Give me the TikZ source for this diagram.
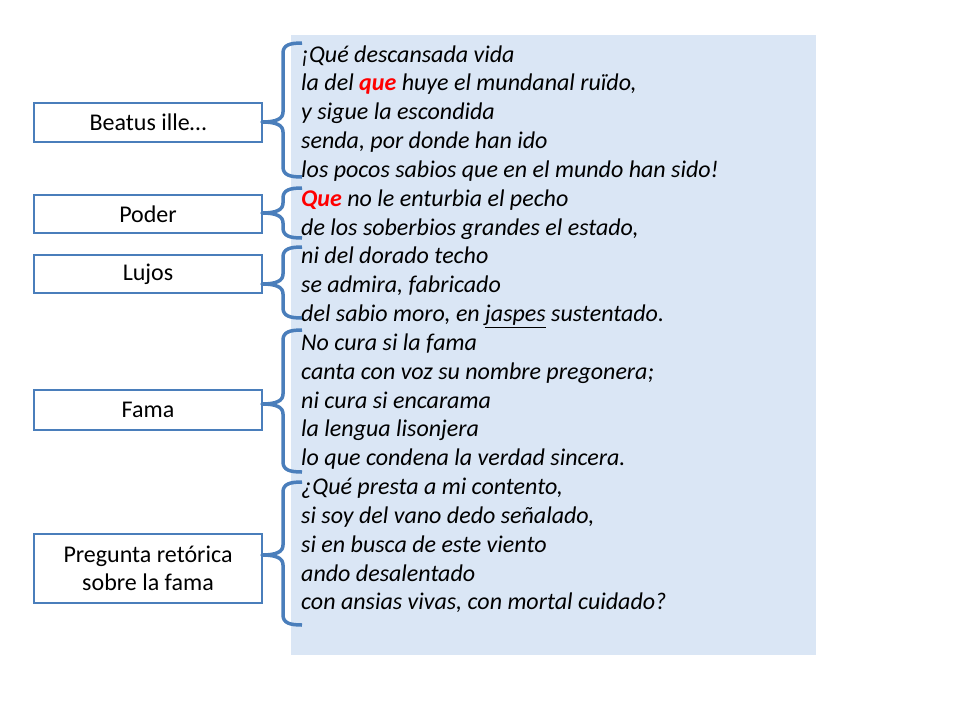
\documentclass[tikz,border=0pt]{standalone}
\usepackage{fontspec}
\setmainfont{Carlito}
\definecolor{boxblue}{RGB}{74,126,187}
\definecolor{panel}{RGB}{218,230,245}
\definecolor{qred}{RGB}{255,0,0}
\newcommand\mybrace[4]{%
  \draw[bracestyle] (302,#1) .. controls (290,#1) and (283,#1+2) .. (283,#1+10)
    -- (283,#3-10) .. controls (283,#3-3) and (276,#3) .. (#4)
    .. controls (276,#3) and (283,#3+3) .. (283,#3+10)
    -- (283,#2-10) .. controls (283,#2-2) and (290,#2) .. (302,#2);}
\begin{document}
\begin{tikzpicture}[x=1pt,y=-1pt,
  lbl/.style={draw=boxblue,line width=2.5pt,fill=white,align=center,
    inner sep=0pt,minimum width=228pt,font=\fontsize{24}{28}\selectfont},
  verse/.style={anchor=base west,inner sep=0pt,
    font=\fontsize{24}{28.84}\selectfont\itshape},
  bracestyle/.style={draw=boxblue,line width=3.5pt,line join=round}]
\useasboundingbox (0,0) rectangle (960,720);
\fill[panel] (291,35) rectangle (816,655);
% label boxes
\node[lbl,minimum height=39pt] (b1) at (148,122.5) {Beatus ille…};
\node[lbl,minimum height=38pt] (b2) at (148,214) {Poder};
\node[lbl,minimum height=38pt] (b3) at (148,274) {Lujos};
\node[lbl,minimum height=40pt] (b4) at (148,410) {Fama};
\node[lbl,minimum height=69pt] (b5) at (148,568.5) {Pregunta retórica\\sobre la fama};
% verses
\def\bl{62}\def\ls{28.84}
\node[verse] (v1)  at (301,\bl+0*\ls)  {¡Qué descansada vida};
\node[verse] (v2)  at (301,\bl+1*\ls)  {la del \textcolor{qred}{\bfseries que} huye el mundanal ruïdo,};
\node[verse] (v3)  at (301,\bl+2*\ls)  {y sigue la escondida};
\node[verse] (v4)  at (301,\bl+3*\ls)  {senda, por donde han ido};
\node[verse] (v5)  at (301,\bl+4*\ls)  {los pocos sabios que en el mundo han sido!};
\node[verse] (v6)  at (301,\bl+5*\ls)  {\textcolor{qred}{\bfseries Que} no le enturbia el pecho};
\node[verse] (v7)  at (301,\bl+6*\ls)  {de los soberbios grandes el estado,};
\node[verse] (v8)  at (301,\bl+7*\ls)  {ni del dorado techo};
\node[verse] (v9)  at (301,\bl+8*\ls)  {se admira, fabricado};
\node[verse] (v10) at (301,\bl+9*\ls)  {del sabio moro, en \underline{jaspes} sustentado.};
\node[verse] (v11) at (301,\bl+10*\ls) {No cura si la fama};
\node[verse] (v12) at (301,\bl+11*\ls) {canta con voz su nombre pregonera;};
\node[verse] (v13) at (301,\bl+12*\ls) {ni cura si encarama};
\node[verse] (v14) at (301,\bl+13*\ls) {la lengua lisonjera};
\node[verse] (v15) at (301,\bl+14*\ls) {lo que condena la verdad sincera.};
\node[verse] (v16) at (301,\bl+15*\ls) {¿Qué presta a mi contento,};
\node[verse] (v17) at (301,\bl+16*\ls) {si soy del vano dedo señalado,};
\node[verse] (v18) at (301,\bl+17*\ls) {si en busca de este viento};
\node[verse] (v19) at (301,\bl+18*\ls) {ando desalentado};
\node[verse] (v20) at (301,\bl+19*\ls) {con ansias vivas, con mortal cuidado?};
% brace tips
\coordinate (t1) at (262,122);
\coordinate (t2) at (262,213);
\coordinate (t3) at (262,284);
\coordinate (t4) at (262,404);
\coordinate (t5) at (262,555);
\mybrace{43}{177}{122}{t1}
\mybrace{188}{238}{213}{t2}
\mybrace{247}{318}{284}{t3}
\mybrace{330}{472}{404}{t4}
\mybrace{482}{625}{555}{t5}
\end{tikzpicture}
\end{document}
